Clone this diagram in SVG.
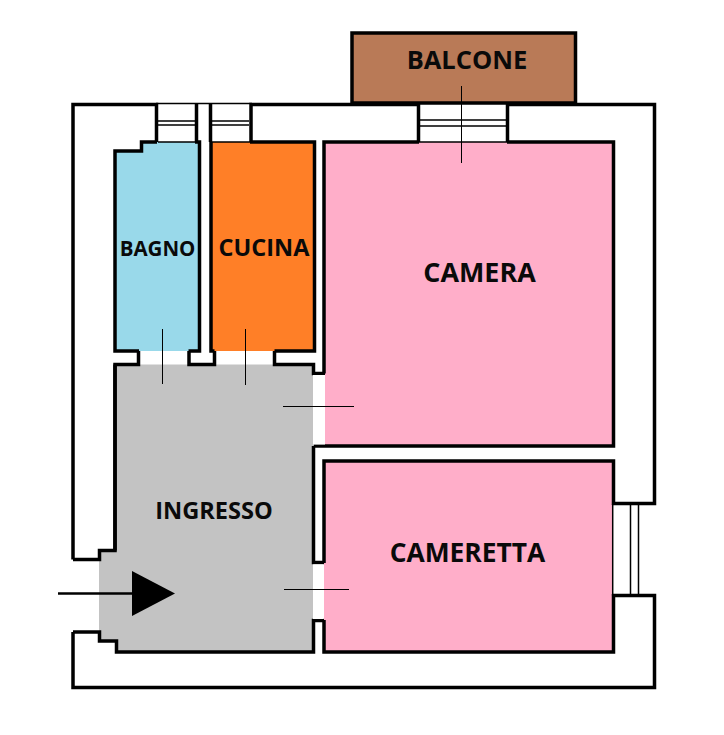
<svg xmlns="http://www.w3.org/2000/svg" width="724" height="735" viewBox="0 0 724 735">
<style>
.w{fill:none;stroke:#000;stroke-width:3.5}
.t{fill:none;stroke:#000;stroke-width:1.5}
.d{fill:none;stroke:#000;stroke-width:1}
text{font-family:"Open Sans","Noto Sans",sans-serif;font-weight:700;fill:#0a0a0a;text-anchor:middle}
</style>
<rect width="724" height="735" fill="#fff"/>
<g id="balcone">
<rect x="352" y="33" width="223.500" height="70" fill="#b97a57" stroke="#000" stroke-width="3.500"/>
<text x="467" y="69" font-size="25.500">BALCONE</text>
</g>
<g id="bagno">
<path d="M115,151 H141.500 V142 H199.500 V351 H115 Z" fill="#99d9ea"/>
<path class="w" d="M139,351 H115 V151 H141.500 V142 H157 M195,142 H199.500 V351 H188.500"/>
<text x="157.500" y="256" font-size="20.500">BAGNO</text>
</g>
<g id="cucina">
<rect x="211" y="142" width="103.500" height="209" fill="#ff7f27"/>
<path class="w" d="M214.500,351 H211 V142 H212 M250,142 H314.500 V351 H274.500"/>
<text x="264" y="256" font-size="23.500">CUCINA</text>
</g>
<g id="camera">
<path d="M325,142 H613.500 V446 H325 Z" fill="#ffaec9"/>
<path class="w" d="M324,373.500 V142 H419 M507,142 H613.500 V446 H313.500"/>
<text x="479.500" y="282" font-size="26.900">CAMERA</text>
</g>
<g id="cameretta">
<rect x="324" y="461" width="289" height="191" fill="#ffaec9"/>
<path class="w" d="M324,563 V461 H613.500 V505 M613.500,594 V652 H324 V620"/>
<path class="t" d="M612.700,504 V596"/>
<text x="467.500" y="562" font-size="26.400">CAMERETTA</text>
</g>
<g id="ingresso">
<path d="M115,364.500 H313.500 V652 H116.500 V641 H99 V551 H115 Z" fill="#c3c3c3"/>
<path class="w" d="M115,550.500 V364.500 H138.500 V351 M189,351 V364.500 H214.500 V351 M274.500,351 V364.500 H313.500 V373.500 H325"/>
<path class="w" d="M115,364.500 V550.500 H99.500 V559.500 H73"/>
<path class="w" d="M73,632 H99.500 V641 H116.500 V652 H313.500 V620.500 H324"/>
<path class="w" d="M313.500,446 V562.500 H324"/>
<text x="214" y="519" font-size="23.600">INGRESSO</text>
</g>
<rect x="313" y="375" width="12" height="69.500" fill="#fff"/>
<rect x="313" y="564.500" width="10.500" height="54.500" fill="#fff"/>
<g id="walls">
<path class="w" d="M73,559.500 V104.500 H156.500 V142"/>
<path class="w" d="M196.500,104 V142 M210.500,104 V142 M251,142 V104.500 H418.500 V142 M507.500,142 V104.500 H654.500 V503.500 H613"/>
<path class="w" d="M613,595.500 H654.500 V687.500 H73 V632"/>
<path class="t" d="M156,103.500 H252"/>
</g>
<g id="windows">
<path class="t" d="M158,121 H195 M158,125 H195 M212,121 H249 M212,125 H249 M420,120 H506 M420,126 H506 M630.500,505 V594 M638.500,505 V594"/>
<path class="t" d="M419,142 H507 M158,142 H196 M212,142 H250"/>
</g>
<g id="connectors">
<path class="d" d="M461.500,86 V163 M162.500,329 V384 M245.500,329 V385 M283,406.500 H354 M284,589.500 H349"/>
<path d="M58,593.500 H134" fill="none" stroke="#000" stroke-width="2.500"/>
<polygon points="132,571 175,593.500 132,616" fill="#000"/>
</g>
</svg>
